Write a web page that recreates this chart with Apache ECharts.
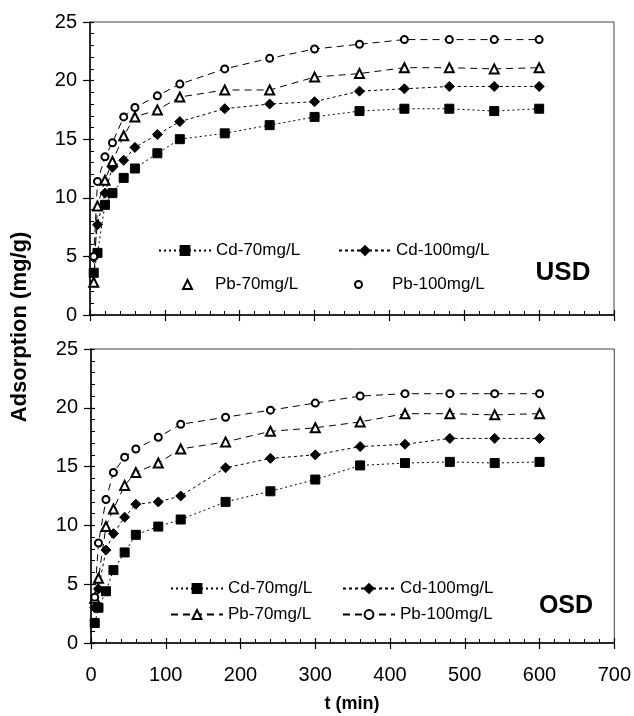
<!DOCTYPE html>
<html>
<head>
<meta charset="utf-8">
<script src="https://cdn.jsdelivr.net/npm/echarts@6/dist/echarts.min.js"></script>
<style>
html, body { margin: 0; padding: 0; background: #fff; }
#main { width: 634px; height: 716px; }
</style>
</head>
<body>
<div id="main"></div>
<script>
// 时间点 (min)
var times = [5, 10, 20, 30, 45, 60, 90, 120, 180, 240, 300, 360, 420, 480, 540, 600];

// USD 上图
var cd70U = [3.6, 5.3, 9.4, 10.4, 11.7, 12.5, 13.8, 15.0, 15.5, 16.2, 16.9, 17.4, 17.6, 17.6, 17.4, 17.6];
var cd100U = [4.9, 7.7, 10.4, 12.6, 13.2, 14.3, 15.4, 16.5, 17.6, 18.0, 18.2, 19.1, 19.3, 19.5, 19.5, 19.5];
var pb70U = [2.8, 9.3, 11.5, 13.1, 15.3, 16.9, 17.5, 18.6, 19.2, 19.2, 20.3, 20.6, 21.1, 21.1, 21.0, 21.1];
var pb100U = [5.0, 11.4, 13.5, 14.7, 16.9, 17.7, 18.7, 19.7, 21.0, 21.9, 22.7, 23.1, 23.5, 23.5, 23.5, 23.5];

// OSD 下图
var cd70O = [1.7, 3.0, 4.4, 6.2, 7.7, 9.2, 9.9, 10.5, 12.0, 12.9, 13.9, 15.1, 15.3, 15.4, 15.3, 15.4];
var cd100O = [3.0, 4.6, 7.9, 9.3, 10.7, 11.8, 12.0, 12.5, 14.9, 15.7, 16.0, 16.7, 16.9, 17.4, 17.4, 17.4];
var pb70O = [3.8, 5.5, 9.9, 11.4, 13.4, 14.5, 15.3, 16.5, 17.1, 18.0, 18.3, 18.8, 19.5, 19.5, 19.4, 19.5];
var pb100O = [3.9, 8.5, 12.2, 14.5, 15.8, 16.5, 17.5, 18.6, 19.2, 19.8, 20.4, 21.0, 21.2, 21.2, 21.2, 21.2];

var names = ['Cd-70mg/L', 'Cd-100mg/L', 'Pb-70mg/L', 'Pb-100mg/L'];
var xTicks = [0, 100, 200, 300, 400, 500, 600, 700];
var yTicks = [0, 5, 10, 15, 20, 25];

var labelFont = "'Liberation Sans Narrow', 'Arial Narrow', Arial, sans-serif";
var textFont = "Arial, 'Liberation Sans', sans-serif";

function pairs(vals) {
    var out = [];
    for (var i = 0; i < times.length; i++) {
        out.push([times[i], vals[i]]);
    }
    return out;
}

// 每条线的样式
var styles = [
    { symbol: 'rect', size: 9, dash: [2, 3] },
    { symbol: 'diamond', size: 10, dash: [3, 3] },
    { symbol: 'emptyTriangle', size: 9, dash: [7, 5] },
    { symbol: 'emptyCircle', size: 7, dash: [7, 5] }
];

function makeSeries(idx, vals, panel) {
    var st = styles[idx];
    return {
        name: names[idx],
        type: 'line',
        xAxisIndex: panel * 2,
        yAxisIndex: panel * 2,
        data: pairs(vals),
        symbol: st.symbol,
        symbolSize: st.size,
        showAllSymbol: true,
        animation: false,
        itemStyle: { color: '#000', borderColor: '#000', borderWidth: 1 },
        lineStyle: { color: '#000', width: 1, type: st.dash }
    };
}

function xAxes(panel, showLabel) {
    var base = {
        gridIndex: panel, type: 'value', min: 0, max: 700, interval: 100,
        position: 'bottom', splitLine: { show: false }
    };
    var a = Object.assign({}, base, {
        axisLine: { show: true, lineStyle: { color: '#000', width: 1.5 } },
        axisTick: { show: true, inside: true, length: 5, lineStyle: { color: '#000', width: 1.2 } },
        minorTick: { show: true, splitNumber: 5, length: 4, lineStyle: { color: '#000', width: 1 } },
        axisLabel: {
            show: showLabel, margin: 22, fontSize: 20, color: '#000', fontFamily: labelFont,
            formatter: function (v) { return xTicks.indexOf(v) >= 0 ? String(v) : ''; }
        }
    });
    var b = Object.assign({}, base, {
        axisLine: { show: false },
        axisTick: { show: true, inside: false, length: 6, lineStyle: { color: '#000', width: 1.2 } },
        axisLabel: { show: false }
    });
    return [a, b];
}

function yAxes(panel) {
    var base = {
        gridIndex: panel, type: 'value', min: 0, max: 25, interval: 5,
        position: 'left', splitLine: { show: false }
    };
    var a = Object.assign({}, base, {
        axisLine: { show: true, lineStyle: { color: '#000', width: 1.5 } },
        axisTick: { show: true, inside: true, length: 4, lineStyle: { color: '#000', width: 1.2 } },
        minorTick: { show: true, splitNumber: 5, length: 4, lineStyle: { color: '#000', width: 1 } },
        axisLabel: {
            show: true, margin: 13, fontSize: 20, color: '#000', fontFamily: labelFont,
            formatter: function (v) { return yTicks.indexOf(v) >= 0 ? String(v) : ''; }
        }
    });
    var b = Object.assign({}, base, {
        axisLine: { show: false },
        axisTick: { show: true, inside: false, length: 7, lineStyle: { color: '#000', width: 1.2 } },
        axisLabel: { show: false }
    });
    return [a, b];
}

// 图例 每个单独摆放
function legendItem(name, left, top, icon, w, h, pad) {
    var item = { name: name };
    if (icon) item.icon = icon;
    return {
        data: [item],
        left: left,
        top: top,
        itemWidth: w || 52,
        itemHeight: h || 11,
        itemGap: 0,
        selectedMode: false,
        textStyle: { fontSize: 17, color: '#000', fontFamily: textFont, padding: [0, 0, 0, pad || 0] }
    };
}

var myChart = echarts.init(document.getElementById('main'), null, { renderer: 'canvas' });

var option = {
    backgroundColor: '#fff',
    animation: false,
    grid: [
        { left: 90, top: 22, width: 524, height: 293, show: true, borderColor: '#444', borderWidth: 1, backgroundColor: 'transparent' },
        { left: 91, top: 349, width: 525, height: 294, show: true, borderColor: '#444', borderWidth: 1, backgroundColor: 'transparent' }
    ],
    xAxis: xAxes(0, false).concat(xAxes(1, true)),
    yAxis: yAxes(0).concat(yAxes(1)),
    legend: [
        legendItem(names[0], 153, 237),
        legendItem(names[1], 333, 237),
        // 上图 Pb 图例只有符号
        legendItem(names[2], 177, 271, 'emptyTriangle', 9, 9, 18),
        legendItem(names[3], 349, 271, 'emptyCircle', 7, 7, 25),
        legendItem(names[0], 165, 575),
        legendItem(names[1], 337, 575),
        legendItem(names[2], 165, 601),
        legendItem(names[3], 337, 601)
    ],
    graphic: [
        {
            type: 'text', x: 20, y: 327, rotation: Math.PI / 2,
            style: { text: 'Adsorption (mg/g)', font: "bold 22px Arial, 'Liberation Sans', sans-serif", fill: '#000', align: 'center', verticalAlign: 'middle' }
        },
        {
            type: 'text', x: 352, y: 704,
            style: { text: 't (min)', font: "bold 18px Arial, 'Liberation Sans', sans-serif", fill: '#000', align: 'center', verticalAlign: 'middle' }
        },
        {
            type: 'text', x: 563, y: 273,
            style: { text: 'USD', font: "bold 26px Arial, 'Liberation Sans', sans-serif", fill: '#000', align: 'center', verticalAlign: 'middle' }
        },
        {
            type: 'text', x: 566, y: 606,
            style: { text: 'OSD', font: "bold 25px Arial, 'Liberation Sans', sans-serif", fill: '#000', align: 'center', verticalAlign: 'middle' }
        }
    ],
    series: [
        makeSeries(0, cd70U, 0),
        makeSeries(1, cd100U, 0),
        makeSeries(2, pb70U, 0),
        makeSeries(3, pb100U, 0),
        makeSeries(0, cd70O, 1),
        makeSeries(1, cd100O, 1),
        makeSeries(2, pb70O, 1),
        makeSeries(3, pb100O, 1)
    ]
};

myChart.setOption(option);
</script>
</body>
</html>
